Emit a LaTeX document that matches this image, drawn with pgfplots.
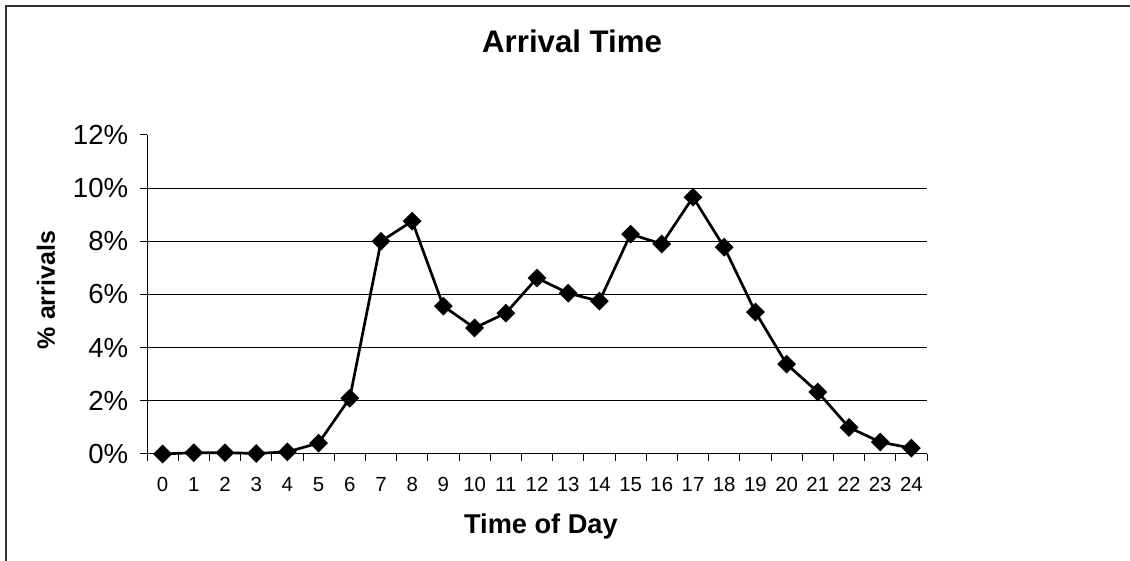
\documentclass[border=0pt]{standalone}
\usepackage{pgfplots}
\pgfplotsset{compat=1.18}
\usepackage{fontspec}
\setmainfont{Liberation Sans}

\begin{document}
\begin{tikzpicture}[x=1pt,y=1pt]
\path[use as bounding box] (0,0) rectangle (565,280.5);
\draw[line width=1pt, black!80] (3.2,0) -- (3.2,277.6) -- (565,277.6);
\begin{axis}[
  at={(73.5pt,53.5pt)}, anchor=south west,
  scale only axis, width=390pt, height=159.5pt,
  xmin=-0.5, xmax=24.5, ymin=0, ymax=12,
  axis lines=left, axis line style={-, line width=0.5pt, black},
  tick align=outside, major tick length=0pt, minor tick length=3.5pt,
  tick style={black, line width=0.5pt},
  xtick={0,1,...,24},
  minor xtick={-0.5,0.5,...,24.5},
  xticklabel style={font=\fontsize{10.2}{11}\selectfont, inner sep=0pt, anchor=base, yshift=-19pt},
  ytick={0,2,...,12},
  minor ytick={0,2,...,12},
  yticklabels={0\%,2\%,4\%,6\%,8\%,10\%,12\%},
  yticklabel style={font=\fontsize{13.8}{15}\selectfont, inner sep=0pt, anchor=east, xshift=-9.2pt},
  extra y ticks={2,4,6,8,10}, extra y tick labels={},
  extra y tick style={grid=major},
  grid style={black, line width=0.5pt},
  /pgf/number format/assume math mode=true,
  title={\bfseries Arrival Time},
  title style={at={(rel axis cs:0.545,1.295)}, anchor=center, yshift=-6pt, font=\fontsize{15.6}{18}\selectfont},
  xlabel={\bfseries Time of Day},
  xlabel style={at={(rel axis cs:0.505,-0.2508)}, anchor=base, font=\fontsize{13.6}{15}\selectfont},
  ylabel={\bfseries \% arrivals},
  ylabel style={at={(rel axis cs:-0.1295,0.514)}, anchor=center, rotate=0, font=\fontsize{12.5}{14}\selectfont},
  clip=false,
]
\addplot[black, line width=1.35pt, mark=square*, mark size=2.65pt,
  mark options={rotate=45, solid}] coordinates {
  (0,0.0) (1,0.05) (2,0.05) (3,0.02) (4,0.08) (5,0.41) (6,2.1) (7,8.0)
  (8,8.76) (9,5.56) (10,4.74) (11,5.3) (12,6.62) (13,6.05) (14,5.75)
  (15,8.27) (16,7.9) (17,9.66) (18,7.78) (19,5.34) (20,3.38) (21,2.33)
  (22,1.0) (23,0.45) (24,0.22)
};
\end{axis}
\end{tikzpicture}
\end{document}
